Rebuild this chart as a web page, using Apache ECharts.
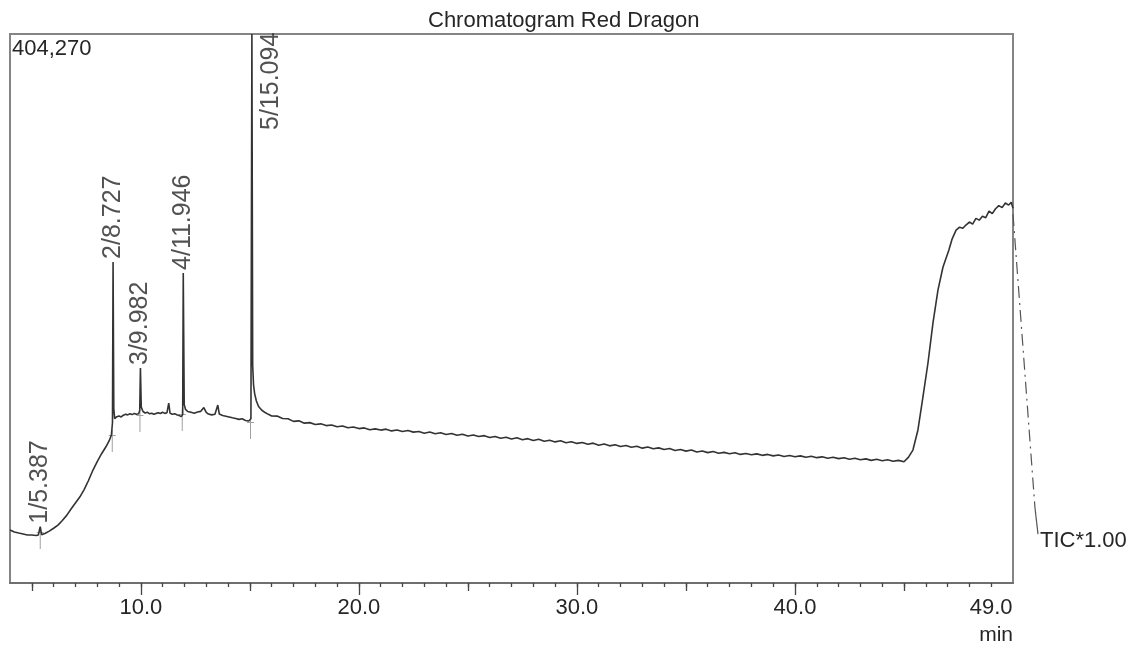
<!DOCTYPE html>
<html><head><meta charset="utf-8">
<script src="https://cdn.jsdelivr.net/npm/echarts@6/dist/echarts.min.js"></script>
<style>html,body{margin:0;padding:0;background:#fff}#c{width:1136px;height:650px}</style>
</head><body><div id="c"></div>
<script>
const chartTitle = 'Chromatogram Red Dragon';
const fullScaleLabel = '404,270';
const fullScale = 404270;
const traceLabel = 'TIC*1.00';
const axisUnit = 'min';

const times = [
 4.00,4.20,4.40,4.60,4.80,5.00,5.20,5.30,5.387,5.45,5.60,5.80,6.00,6.20,6.40,6.60,6.80,7.00,7.20,7.40,7.60,7.80,8.00,8.20,8.40,8.55,8.65,8.70,8.727,8.76,8.80,8.90,
 9.00,9.10,9.20,9.30,9.40,9.50,9.60,9.70,9.80,9.90,9.95,9.982,10.02,10.10,10.20,10.30,10.40,10.50,10.60,10.70,10.80,10.90,11.00,11.10,11.20,11.28,11.34,11.45,11.55,11.65,11.75,11.85,11.92,11.946,11.99,
 12.05,12.15,12.30,12.45,12.60,12.75,12.89,13.00,13.10,13.25,13.40,13.53,13.60,13.75,13.90,14.05,14.20,14.35,14.50,14.65,14.80,14.95,15.05,15.094,15.13,15.17,15.22,15.30,15.40,15.55,15.70,15.85,16.00,
 16.25,16.50,16.75,17.00,17.25,17.50,17.75,18.00,18.25,18.50,18.75,19.00,19.25,19.50,19.75,20.00,20.25,20.50,20.75,21.00,21.25,21.50,21.75,22.00,22.25,22.50,22.75,23.00,23.25,23.50,23.75,24.00,
 24.25,24.50,24.75,25.00,25.25,25.50,25.75,26.00,26.25,26.50,26.75,27.00,27.25,27.50,27.75,28.00,28.25,28.50,28.75,29.00,29.25,29.50,29.75,30.00,30.25,30.50,30.75,31.00,31.25,31.50,31.75,32.00,
 32.25,32.50,32.75,33.00,33.25,33.50,33.75,34.00,34.25,34.50,34.75,35.00,35.25,35.50,35.75,36.00,36.25,36.50,36.75,37.00,37.25,37.50,37.75,38.00,38.25,38.50,38.75,39.00,39.25,39.50,39.75,40.00,
 40.25,40.50,40.75,41.00,41.25,41.50,41.75,42.00,42.25,42.50,42.75,43.00,43.25,43.50,43.75,44.00,44.25,44.50,44.75,45.00,
 45.20,45.41,45.64,45.87,46.10,46.33,46.56,46.79,47.06,47.20,47.39,47.55,47.70,47.84,48.00,48.15,48.30,48.45,48.60,48.75,48.90,49.05,49.20,49.35,49.50,49.65,49.80,49.92,50.00
];
const intensity = [
 39000,37600,36800,36100,35400,35300,35000,35400,41500,35600,36400,38200,40300,42600,46000,49800,54500,58900,63300,68800,75500,83000,89400,95200,100300,104800,109000,118000,236400,128500,121000,122500,
 123000,122300,123600,124300,123800,124600,124000,124900,124300,124700,127000,158300,129500,126300,125200,125800,124600,125000,124300,124900,125400,124800,125700,124900,125400,132500,125000,124300,124700,123900,123400,122500,124000,228300,131500,
 127800,126300,125700,125000,125900,126400,129200,125600,124400,123800,124300,131000,124400,123300,122800,122300,121700,121200,120500,120900,119700,119300,121000,404270,160000,145800,139500,134000,130000,127200,125500,124200,123000,
 122900,121100,120900,119000,119400,117700,118100,116700,117200,115900,116400,115000,115600,114300,114900,113700,114200,112900,113500,112600,113300,112000,112700,111500,112300,111100,111600,110300,111200,109900,110700,109400,
 110100,108800,109600,108300,109000,107900,108500,107100,107900,106600,107300,106000,106900,105500,106300,104900,105800,104400,105100,103900,104700,103300,104000,102800,103500,102200,103000,101500,102300,101000,101800,100500,
 101200,99900,100700,99300,100100,98800,99500,98300,99000,97600,98300,97100,97900,96500,97200,96000,96800,95600,96200,95200,95900,94700,95400,94500,95100,94000,94700,93600,94300,93200,93900,93000,
 93600,92600,93300,92300,92900,91900,92600,91600,92200,91100,91800,90700,91400,90300,91100,90000,90800,89600,90300,89300,
 92500,97900,112700,137000,162000,191500,215800,232700,245200,253000,259900,262000,261200,263600,265800,264300,268500,267200,270100,269000,273800,272000,275600,277900,276400,279800,278300,280300,276000
];

const peakNames = ['1/5.387','2/8.727','3/9.982','4/11.946','5/15.094'];
const peakTimes = [5.387, 8.727, 9.982, 11.946, 15.094];
const peakMarkTimes = [5.387, 8.69, 9.96, 11.90, 15.03];
const peakMarkValues = [33100, 104600, 119300, 120000, 114100];

const xLabelValues = [10, 20, 30, 40, 49];
const minorTickValues = [5,6,7,8,9,10,11,12,13,14,15,16,17,18,19,20,21,22,23,24,25,26,27,28,29,30,31,32,33,34,35,36,37,38,39,40,41,42,43,44,45,46,47,48,49];
const midTickValues = [5, 15, 25, 35, 45];
const majorTickValues = [10, 20, 30, 40];

const FONT = 'Liberation Sans, Arial, sans-serif';
const TXT = '#262626';
const chart = echarts.init(document.getElementById('c'), null, {renderer: 'canvas'});

const trace = times.map((t, i) => [t, intensity[i]]);
const peakPoints = peakTimes.map((t, i) => {
  const v = intensity[times.indexOf(t)];
  const item = {value: [t, v], name: peakNames[i]};
  if (v >= fullScale) {
    // label rotated 90deg: offset is in the rotated frame
    item.label = {offset: [-99, 19]};
  }
  return item;
});
const marks = peakMarkTimes.map((t, i) => [t, peakMarkValues[i]]);

function tickAxis(values, len, showLine) {
  return {
    type: 'value', min: 4, max: 50, position: 'bottom', gridIndex: 0,
    axisLine: {show: showLine, onZero: false, lineStyle: {color: '#6f6f6f', width: 2}},
    axisTick: {show: true, customValues: values, length: len, inside: false, lineStyle: {color: '#444', width: 1.3}},
    axisLabel: {show: false},
    splitLine: {show: false}
  };
}

const mainX = tickAxis(minorTickValues, 4, true);
mainX.axisLabel = {
  show: true, customValues: xLabelValues, margin: 14,
  fontFamily: FONT, fontSize: 22, color: TXT,
  formatter: v => Number(v).toFixed(1)
};

const option = {
  animation: false,
  backgroundColor: '#fff',
  title: [
    {text: chartTitle, left: 428, top: 10, padding: 0,
     textStyle: {fontFamily: FONT, fontSize: 22, fontWeight: 'normal', color: TXT}},
    {text: fullScaleLabel, left: 12, top: 38, padding: 0,
     textStyle: {fontFamily: FONT, fontSize: 22, fontWeight: 'normal', color: TXT}},
    {text: axisUnit, right: 123, top: 625, padding: 0,
     textStyle: {fontFamily: FONT, fontSize: 21, fontWeight: 'normal', color: TXT}}
  ],
  grid: {left: 10, right: 123, top: 34, bottom: 67, show: true, borderColor: '#858585', borderWidth: 2, backgroundColor: 'transparent', containLabel: false},
  xAxis: [mainX, tickAxis(midTickValues, 8, false), tickAxis(majorTickValues, 12, false)],
  yAxis: {type: 'value', min: 0, max: fullScale, show: false},
  series: [
    {
      type: 'line', data: trace, xAxisIndex: 0, showSymbol: false, symbol: 'none',
      lineStyle: {color: '#333', width: 1.6}, clip: true, z: 3
    },
    {
      type: 'scatter', data: marks, xAxisIndex: 0,
      symbol: 'path://M3,0h1v22h-1z M0,5h7v1h-7z', symbolSize: [7, 22], symbolKeepAspect: false,
      itemStyle: {color: '#8a8a8a'}, z: 2, silent: true
    },
    {
      type: 'scatter', data: peakPoints, xAxisIndex: 0, symbolSize: 0, z: 4,
      label: {
        show: true, position: 'top', distance: 3, rotate: 90,
        align: 'left', verticalAlign: 'middle',
        formatter: p => p.name,
        fontFamily: FONT, fontSize: 25, color: TXT
      }
    }
  ]
};
chart.setOption(option);

const endPt = chart.convertToPixel({xAxisIndex: 0, yAxisIndex: 0}, trace[trace.length - 1]);
chart.setOption({
  graphic: [
    {type: 'polyline', shape: {points: [[endPt[0], endPt[1] + 6], [endPt[0] + 22, endPt[1] + 300]]},
     style: {stroke: '#555', lineWidth: 1.2, lineDash: [12, 5, 2, 5], fill: null}},
    {type: 'polyline', shape: {points: [[endPt[0] + 22, endPt[1] + 300], [endPt[0] + 25, endPt[1] + 326]]},
     style: {stroke: '#555', lineWidth: 1.2, fill: null}},
    {type: 'text', x: endPt[0] + 27, y: endPt[1] + 333,
     style: {text: traceLabel, fontFamily: FONT, fontSize: 22, fill: TXT, verticalAlign: 'middle', align: 'left'}}
  ]
});
</script></body></html>
